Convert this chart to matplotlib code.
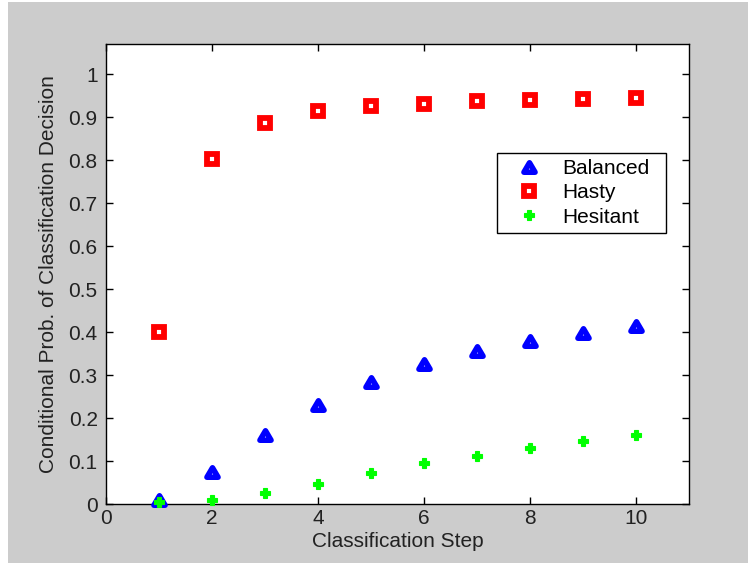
import matplotlib
matplotlib.use("Agg")
import matplotlib.pyplot as plt
from matplotlib.markers import MarkerStyle
from matplotlib.patches import Rectangle
from matplotlib.path import Path
from matplotlib.ticker import FormatStrFormatter

# classification steps
steps = [1, 2, 3, 4, 5, 6, 7, 8, 9, 10]

# conditional probabilities
balanced = [0.010, 0.075, 0.160, 0.230, 0.284, 0.325, 0.356, 0.380, 0.399, 0.414]
hasty = [0.400, 0.803, 0.886, 0.914, 0.926, 0.932, 0.937, 0.940, 0.943, 0.944]
hesitant = [0.004, 0.009, 0.025, 0.047, 0.071, 0.095, 0.112, 0.131, 0.147, 0.160]

labels = ["Balanced", "Hasty", "Hesitant"]
xticks = [0, 2, 4, 6, 8, 10]
yticks = [0, 0.1, 0.2, 0.3, 0.4, 0.5, 0.6, 0.7, 0.8, 0.9, 1.0]

plt.rcParams["font.family"] = ["Liberation Sans", "DejaVu Sans"]
plt.rcParams["font.size"] = 15

# slightly flattened closed triangle, like matlab's '^', with sharp corners
tri = MarkerStyle(Path([(0, 0.85), (-1, -0.85), (1, -0.85), (0, 0.85)], closed=True),
                  joinstyle="miter")

fig = plt.figure(figsize=(7.48, 5.63), dpi=100, facecolor="#cccccc")
# thin white strip at left/top like the screenshot
fig.patches.append(Rectangle((0, 0), 8 / 748, 1, transform=fig.transFigure,
                             facecolor="white", edgecolor="none", zorder=-1))
fig.patches.append(Rectangle((0, 1 - 2 / 563), 1, 2 / 563, transform=fig.transFigure,
                             facecolor="white", edgecolor="none", zorder=-1))

ax = fig.add_axes([106 / 748, 1 - 504 / 563, 583.3 / 748, 460 / 563])
ax.set_facecolor("white")

l1, = ax.plot(steps, balanced, linestyle="none", marker=tri, markersize=8,
              markerfacecolor="white", markeredgecolor="#0000ff", markeredgewidth=4,
              clip_on=False, zorder=3)
l2, = ax.plot(steps, hasty, linestyle="none", marker="s", markersize=7.7,
              markerfacecolor="white", markeredgecolor="#ff0000", markeredgewidth=4.2,
              clip_on=False, zorder=3)
l3, = ax.plot(steps, hesitant, linestyle="none", marker="P", markersize=7.5,
              markerfacecolor="#00ff00", markeredgecolor="#00ff00", markeredgewidth=0.8,
              clip_on=False, zorder=4)

ax.set_xlim(0, 11)
ax.set_ylim(0, 1.0705)
ax.set_xticks(xticks)
ax.set_yticks(yticks)
ax.yaxis.set_major_formatter(FormatStrFormatter("%g"))

for s in ax.spines.values():
    s.set_linewidth(1.0)
    s.set_color("black")
ax.tick_params(direction="in", top=True, right=True, length=5, width=1,
               colors="black", labelcolor="#222222")
ax.tick_params(axis="x", pad=3.5)
ax.tick_params(axis="y", pad=6)

ax.set_xlabel("Classification Step", labelpad=3, color="#222222")
ax.set_ylabel("Conditional Prob. of Classification Decision", labelpad=7.5, color="#222222")

leg = ax.legend([l1, l2, l3], labels, loc="upper left",
                bbox_to_anchor=(0.670, 0.58, 0.2897, 0.183), mode="expand",
                borderaxespad=0, borderpad=0.28, handlelength=2.5, handletextpad=0.35,
                labelspacing=0.26, fancybox=False, framealpha=1, numpoints=1)
leg.get_frame().set_edgecolor("black")
leg.get_frame().set_linewidth(1.0)

fig.savefig("out.png", dpi=100, facecolor=fig.get_facecolor())
